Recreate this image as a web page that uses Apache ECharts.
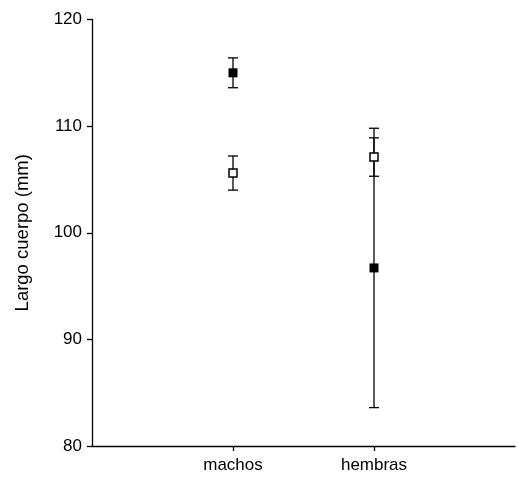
<!DOCTYPE html>
<html>
<head>
<meta charset="utf-8">
<script src="https://cdn.jsdelivr.net/npm/echarts@6/dist/echarts.min.js"></script>
<style>
  html, body { margin: 0; padding: 0; background: #fff; }
  #chart { width: 518px; height: 479px; }
</style>
</head>
<body>
<div id="chart"></div>
<script>
// Body length (mm) by sex: two groups shown as mean ± error
const categories = ['', 'machos', 'hembras', ''];
const groupIndex = [1, 2];
const filledMean = [115.0, 96.7];
const filledErr = [1.4, 13.1];
const openMean = [105.6, 107.1];
const openErr = [1.6, 1.8];
const yTicks = [80, 90, 100, 110, 120];

const FONT = 'Arial, "Liberation Sans", sans-serif';
const TICK_SIZE = 17;
const TITLE_SIZE = 18.5;

function errorData(means, errs) {
  return groupIndex.map((x, i) => [x, means[i] - errs[i], means[i] + errs[i]]);
}

function renderErrorBar(params, api) {
  const x = api.value(0);
  const lo = api.coord([x, api.value(1)]);
  const hi = api.coord([x, api.value(2)]);
  const half = 5;
  const style = { stroke: '#000', lineWidth: 1.3 };
  return {
    type: 'group',
    children: [
      { type: 'line', shape: { x1: lo[0], y1: lo[1], x2: hi[0], y2: hi[1] }, style },
      { type: 'line', shape: { x1: lo[0] - half, y1: lo[1], x2: lo[0] + half, y2: lo[1] }, style },
      { type: 'line', shape: { x1: hi[0] - half, y1: hi[1], x2: hi[0] + half, y2: hi[1] }, style }
    ]
  };
}

const chart = echarts.init(document.getElementById('chart'), null, { renderer: 'canvas' });
chart.setOption({
  animation: false,
  backgroundColor: '#fff',
  grid: { left: 92, right: 0, top: 19.5, bottom: 33, containLabel: false },
  xAxis: {
    type: 'category',
    data: categories,
    boundaryGap: false,
    axisLine: { lineStyle: { color: '#000', width: 1.3 } },
    axisTick: {
      length: 5,
      inside: false,
      interval: (idx) => idx === 1 || idx === 2,
      lineStyle: { color: '#000', width: 1.3 }
    },
    axisLabel: {
      interval: 0,
      margin: 11,
      color: '#000',
      fontSize: TICK_SIZE,
      fontFamily: FONT
    },
    splitLine: { show: false }
  },
  yAxis: {
    type: 'value',
    min: yTicks[0],
    max: yTicks[yTicks.length - 1],
    interval: 10,
    name: 'Largo cuerpo (mm)',
    nameLocation: 'middle',
    nameGap: 60,
    nameRotate: 90,
    nameTextStyle: { color: '#000', fontSize: TITLE_SIZE, fontFamily: FONT },
    axisLine: { show: true, lineStyle: { color: '#000', width: 1.3 } },
    axisTick: { show: true, length: 5, lineStyle: { color: '#000', width: 1.3 } },
    axisLabel: { color: '#000', fontSize: TICK_SIZE, fontFamily: FONT, margin: 10 },
    splitLine: { show: false }
  },
  series: [
    {
      type: 'custom',
      renderItem: renderErrorBar,
      encode: { x: 0, y: [1, 2] },
      data: errorData(filledMean, filledErr),
      z: 1
    },
    {
      type: 'custom',
      renderItem: renderErrorBar,
      encode: { x: 0, y: [1, 2] },
      data: errorData(openMean, openErr),
      z: 1
    },
    {
      type: 'scatter',
      symbol: 'rect',
      symbolSize: 9,
      itemStyle: { color: '#000', opacity: 1 },
      data: groupIndex.map((x, i) => [x, filledMean[i]]),
      z: 3
    },
    {
      type: 'scatter',
      symbol: 'rect',
      symbolSize: 8,
      itemStyle: { color: '#fff', borderColor: '#000', borderWidth: 1.5, opacity: 1 },
      data: groupIndex.map((x, i) => [x, openMean[i]]),
      z: 3
    }
  ]
});
</script>
</body>
</html>
